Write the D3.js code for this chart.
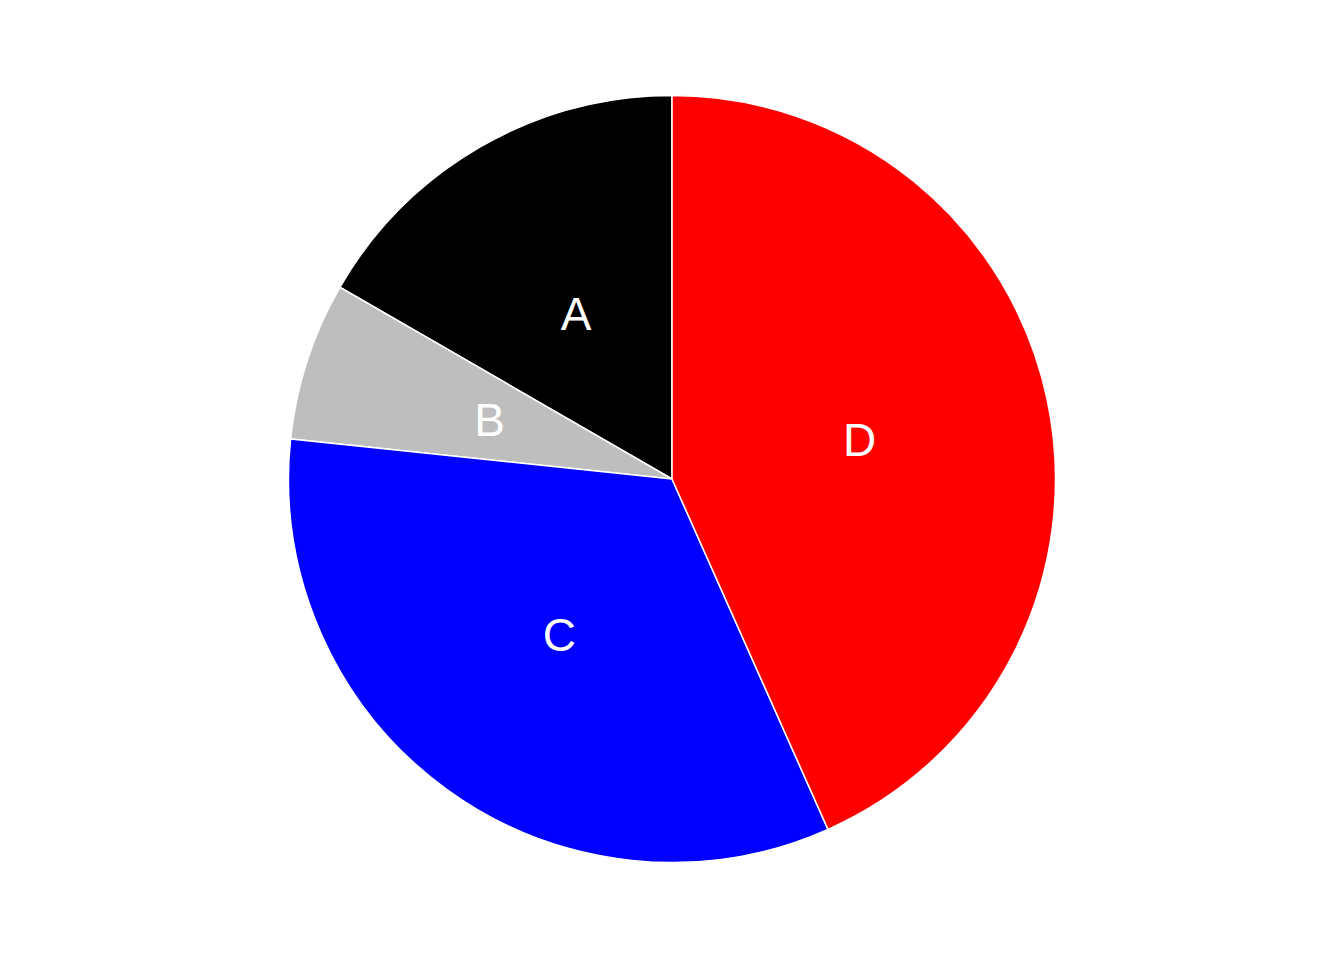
<!DOCTYPE html>
<html>
<head>
<meta charset="utf-8">
<script src="https://cdn.jsdelivr.net/npm/d3@7"></script>
<style>
  body { margin: 0; background: #fff; }
  svg { display: block; }
</style>
</head>
<body>
<svg width="1344" height="960"></svg>
<script>
// slice data (counterclockwise from 12 o'clock)
let categories = ["A", "B", "C", "D"];
let values = [10, 4, 20, 26];
let colors = ["#000000", "#bebebe", "#0000ff", "#ff0000"];

let svg = d3.select("svg");
let cx = 672, cy = 479;
let radius = 383.5;

let colorScale = d3.scaleOrdinal()
  .domain(categories)
  .range(colors);

let pie = d3.pie()
  .sort(null)
  .startAngle(0)
  .endAngle(-2 * Math.PI)
  .value(function(d, i) { return values[i]; });

let arcs = pie(categories);

let arc = d3.arc().innerRadius(0).outerRadius(radius);
let labelArc = d3.arc().innerRadius(radius / 2).outerRadius(radius / 2);

let plot = svg.append("g")
  .attr("transform", "translate(" + cx + "," + cy + ")");

plot.selectAll("path")
  .data(arcs)
  .enter().append("path")
  .attr("d", arc)
  .attr("fill", function(d) { return colorScale(d.data); })
  .attr("stroke", "#fff")
  .attr("stroke-width", 1.5);

plot.selectAll("text")
  .data(arcs)
  .enter().append("text")
  .attr("x", function(d) { return labelArc.centroid(d)[0]; })
  .attr("y", function(d) { return labelArc.centroid(d)[1]; })
  .attr("dy", "0.36em")
  .attr("text-anchor", "middle")
  .attr("fill", "#fff")
  .style("font-family", "'Liberation Sans', Arial, sans-serif")
  .style("font-size", "46px")
  .text(function(d) { return d.data; });
</script>
</body>
</html>
